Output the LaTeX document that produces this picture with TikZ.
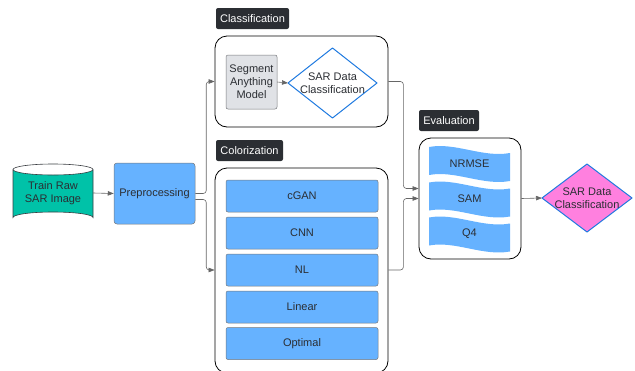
\documentclass[tikz,border=0pt]{standalone}
\usepackage{fontspec}
\setmainfont{Liberation Sans}
\usetikzlibrary{arrows.meta}
\definecolor{teal1}{HTML}{00C2A8}
\definecolor{blue1}{HTML}{66B2FF}
\definecolor{gray1}{HTML}{E0E2E6}
\definecolor{pink1}{HTML}{FF80DF}
\definecolor{dborder}{HTML}{1F7AE0}
\definecolor{lab}{HTML}{2B2E33}
\definecolor{edge}{HTML}{3A3D42}
\definecolor{conn}{HTML}{666666}
\tikzset{
  txt/.style={font=\fontsize{11}{13}\selectfont, text=lab, align=center, inner sep=0pt},
  bluebox/.style={txt, draw=edge!70, line width=0.5pt, fill=blue1, rounded corners=2pt, minimum width=152pt, minimum height=32pt},
  tag/.style={font=\fontsize{11}{13}\selectfont, text=white, fill=lab, rounded corners=2pt, inner sep=0pt, minimum height=21pt},
  container/.style={draw=black, line width=0.8pt, rounded corners=12pt, inner sep=0pt},
  conline/.style={draw=conn, line width=0.6pt, rounded corners=3pt, -{Triangle[length=6pt,width=4.5pt]}},
}
\newcommand\tapeat[3]{%
  \fill[blue1] (429,#2) .. controls (455,#2-5) and (483,#2+11) .. (510,#2+6)
    -- (510,#2+34) .. controls (483,#2+39) and (455,#2+23) .. (429,#2+28) -- cycle;
  \node[txt] (#1) at (469.5,#2+16.5) {#3};}
\begin{document}
\begin{tikzpicture}[x=1pt,y=-1pt]
\useasboundingbox (0,0) rectangle (635,370);
\clip (0,0) rectangle (635,370);

% cylinder
\fill[teal1] (13,169.5) -- (13,217.5) arc[start angle=180,end angle=360,x radius=40,y radius=5.5] -- (93,169.5) arc[start angle=0,end angle=180,x radius=40,y radius=5.5] -- cycle;
\draw[edge, line width=0.6pt] (13,169.5) -- (13,217.5) arc[start angle=180,end angle=360,x radius=40,y radius=5.5] -- (93,169.5);
\draw[edge, line width=0.6pt] (53,169.5) ellipse[x radius=40,y radius=5.5];
\node[txt, minimum width=80pt, minimum height=60pt] (cyl) at (53,193) {Train Raw\\SAR Image};

% preprocessing
\node[txt, draw=edge!70, line width=0.5pt, fill=blue1, rounded corners=3pt, minimum width=81pt, minimum height=61pt] (pre) at (154.5,193.5) {Preprocessing};

% classification
\node[tag, minimum width=73pt] (clstag) at (252.5,18.5) {Classification};
\node[container, minimum width=173pt, minimum height=91pt] (cls) at (301.5,81.5) {};
\node[txt, draw=edge!70, line width=0.5pt, fill=gray1, rounded corners=2pt, minimum width=51pt, minimum height=54pt] (sam) at (251.5,82) {Segment\\Anything\\Model};
\coordinate (d1w) at (288,83);
\draw[dborder, fill=white, line width=1pt, line join=round] (d1w) -- (332.5,48) -- (377,83) -- (332.5,118) -- cycle;
\node[txt] (d1) at (332.5,83) {SAR Data\\Classification};

% colorization
\node[tag, minimum width=67pt] (coltag) at (249.5,150.5) {Colorization};
\node[container, minimum width=173pt, minimum height=205pt] (col) at (301.5,270.5) {};
\node[bluebox] (cgan) at (302,196) {cGAN};
\node[bluebox] (cnn) at (302,233) {CNN};
\node[bluebox] (nl) at (302,270) {NL};
\node[bluebox] (lin) at (302,307) {Linear};
\node[bluebox] (opt) at (302,343.5) {Optimal};

% evaluation
\node[tag, minimum width=60pt] (evtag) at (449,120.5) {Evaluation};
\node[container, minimum width=102pt, minimum height=121pt] (ev) at (470,198.5) {};
\tapeat{nrmse}{147}{NRMSE}
\tapeat{samm}{182.5}{SAM}
\tapeat{qfour}{217.5}{Q4}

% final diamond
\coordinate (d2w) at (542,198);
\draw[dborder, fill=pink1, line width=1pt, line join=round] (d2w) -- (587,164) -- (632,198) -- (587,232) -- cycle;
\node[txt] (d2) at (587,198) {SAR Data\\Classification};

% connectors
\draw[conline] (cyl.east) -- (pre.west);
\draw[conline] (sam.east) -- (d1w);
\draw[conline] (pre.east) -- ++(11,0) |- (cls.west);
\draw[conline] ([yshift=-6pt]pre.east) -- ++(11,0) |- (nl -| col.west);
\draw[conline] (cls.east) -- ++(15,0) |- ([yshift=10pt]ev.west);
\draw[conline] (nl -| col.east) -- ++(15,0) |- (ev.west);
\draw[conline] (ev.east) -- (d2w);
\end{tikzpicture}
\end{document}
